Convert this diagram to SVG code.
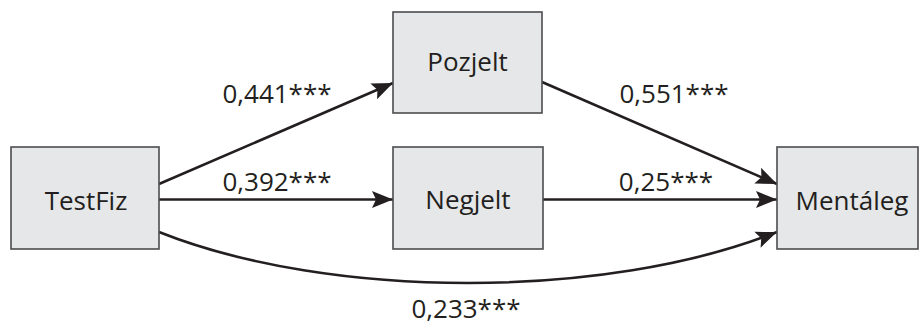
<svg xmlns="http://www.w3.org/2000/svg" width="919" height="327" viewBox="0 0 919 327">
<defs>
<style>
.box{fill:#e6e7e8;stroke:#4d4d4f;stroke-width:1.6}
.lbl{font-family:"Open Sans","Noto Sans","DejaVu Sans",sans-serif;font-size:26px;fill:#231f20;text-anchor:middle}
.edge{fill:none;stroke:#231f20;stroke-width:2.6;marker-end:url(#arr)}
</style>
<marker id="arr" markerUnits="userSpaceOnUse" markerWidth="24" markerHeight="20" viewBox="-22 -10 24 20" refX="0" refY="0" orient="auto">
<path d="M0,0 L-21,-8.5 L-17,0 L-21,8.5 Z" fill="#231f20"/>
</marker>
</defs>
<rect width="919" height="327" fill="#ffffff"/>
<g id="connectors">
<path class="edge" d="M159,184 L393,83"/>
<path class="edge" d="M159,199.5 L393,199.5"/>
<path class="edge" d="M542,82 L777,184"/>
<path class="edge" d="M543,199.5 L777,199.5"/>
<path class="edge" d="M159,232 C330,300 606,300 777,232"/>
</g>
<g id="edge-labels">
<text class="lbl" x="277" y="103">0,441***</text>
<text class="lbl" x="277" y="191">0,392***</text>
<text class="lbl" x="674" y="103">0,551***</text>
<text class="lbl" x="666" y="191">0,25***</text>
<text class="lbl" x="466" y="318">0,233***</text>
</g>
<g id="node-testfiz">
<rect class="box" x="11" y="147" width="148" height="102"/>
<text class="lbl" x="86" y="210">TestFiz</text>
</g>
<g id="node-pozjelt">
<rect class="box" x="393" y="12" width="149" height="101"/>
<text class="lbl" x="467.5" y="71">Pozjelt</text>
</g>
<g id="node-negjelt">
<rect class="box" x="393" y="147" width="150" height="102"/>
<text class="lbl" x="468" y="209">Negjelt</text>
</g>
<g id="node-mentaleg">
<rect class="box" x="777" y="147" width="141" height="102"/>
<text class="lbl" x="852" y="210">Mentáleg</text>
</g>
</svg>
